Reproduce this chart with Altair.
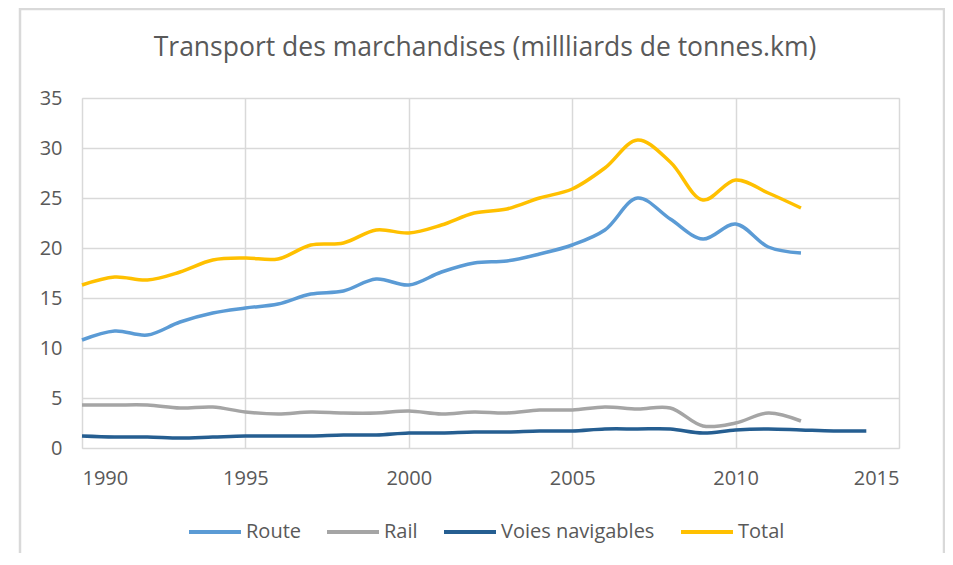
import altair as alt
import pandas as pd

years = list(range(1990, 2015))
route = [10.8, 11.7, 11.3, 12.6, 13.5, 14.0, 14.4, 15.4, 15.7, 16.9, 16.3, 17.6, 18.5,
         18.7, 19.4, 20.3, 21.8, 25.0, 22.9, 20.9, 22.4, 20.1, 19.5]
rail = [4.3, 4.3, 4.3, 4.0, 4.1, 3.6, 3.4, 3.6, 3.5, 3.5, 3.7, 3.4, 3.6,
        3.5, 3.8, 3.8, 4.1, 3.9, 4.0, 2.2, 2.5, 3.5, 2.7]
voies = [1.2, 1.1, 1.1, 1.0, 1.1, 1.2, 1.2, 1.2, 1.3, 1.3, 1.5, 1.5, 1.6,
         1.6, 1.7, 1.7, 1.9, 1.9, 1.9, 1.5, 1.8, 1.9, 1.8, 1.7, 1.7]
total = [16.3, 17.1, 16.8, 17.6, 18.8, 19.0, 18.9, 20.3, 20.5, 21.8, 21.5, 22.3, 23.5,
         23.9, 25.0, 25.9, 28.0, 30.8, 28.6, 24.8, 26.8, 25.5, 24.0]

series = ["Route", "Rail", "Voies navigables", "Total"]
colors = ["#5B9BD5", "#A5A5A5", "#255E91", "#FFC000"]
title_text = "Transport des marchandises (millliards de tonnes.km)"

rows = []
for name, vals in zip(series, [route, rail, voies, total]):
    for y, v in zip(years, vals):
        rows.append({"Année": y, "Valeur": v, "Série": name})
df = pd.DataFrame(rows)

FONT = "Open Sans"
TXT = "#595959"
GRID = "#D9D9D9"

lines = alt.Chart(df).mark_line(interpolate="catmull-rom", strokeWidth=3.5).encode(
    x=alt.X("Année:Q", scale=alt.Scale(domain=[1990, 2015], nice=False),
            axis=alt.Axis(values=[1990, 1995, 2000, 2005, 2010, 2015], format="d",
                          title=None, grid=True, gridColor=GRID, gridWidth=1.5,
                          domain=False, ticks=False, labelPadding=20,
                          labelFontSize=20, labelColor=TXT, labelFont=FONT)),
    y=alt.Y("Valeur:Q", scale=alt.Scale(domain=[0, 35], nice=False),
            axis=alt.Axis(values=[0, 5, 10, 15, 20, 25, 30, 35], title=None,
                          grid=True, gridColor=GRID, gridWidth=1.5, domain=False,
                          ticks=False, labelPadding=20, labelFontSize=20,
                          labelColor=TXT, labelFont=FONT)),
    color=alt.Color("Série:N", scale=alt.Scale(domain=series, range=colors),
                    sort=series,
                    legend=alt.Legend(title=None, orient="none", direction="horizontal",
                                      legendX=105, legendY=406, symbolType="stroke",
                                      symbolSize=2704, symbolStrokeWidth=4,
                                      labelFontSize=20, labelColor=TXT, labelFont=FONT,
                                      columnPadding=18, labelOffset=3)),
)

frame = alt.Chart(pd.DataFrame({"a": [0]})).mark_rect(
    filled=False, stroke=GRID, strokeWidth=2.5
).encode(x=alt.value(-62), x2=alt.value(862), y=alt.value(-89), y2=alt.value(500))

title = alt.Chart(pd.DataFrame({"t": [title_text]})).mark_text(
    font=FONT, fontSize=26.5, color=TXT, align="center", baseline="middle"
).encode(text="t:N", x=alt.value(403), y=alt.value(-50))

chart = alt.layer(frame, lines, title).properties(
    width=817, height=350,
    autosize=alt.AutoSizeParams(type="none"),
    padding={"left": 74, "top": 90, "right": 46, "bottom": 105},
).configure_view(stroke=None).configure(background="white")

chart.save("out.html", embed_options={"renderer": "svg", "actions": False})
